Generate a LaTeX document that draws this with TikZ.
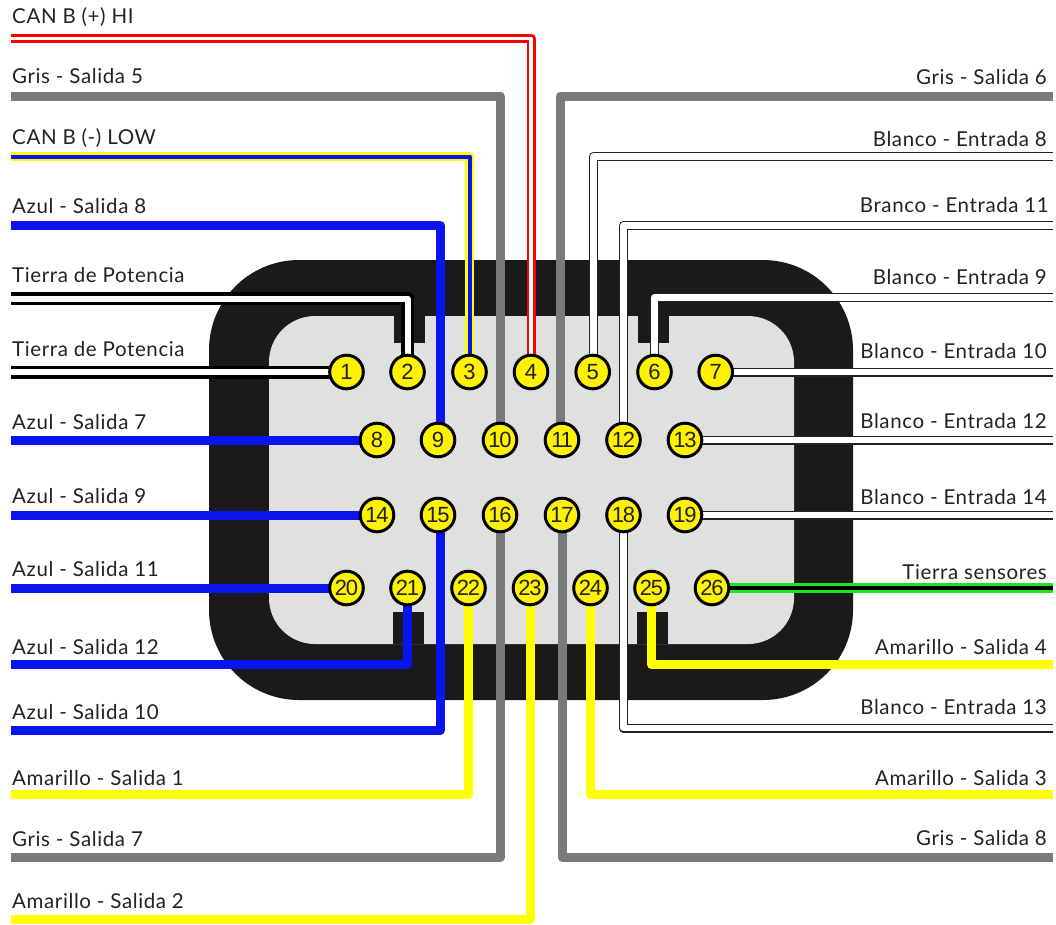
\documentclass[tikz,border=0pt]{standalone}
\usepackage{fontspec}
\usepackage{xcolor}
\setmainfont[LetterSpace=3]{Lato}
\newfontfamily\pinfont[LetterSpace=-6]{Liberation Sans}
\usetikzlibrary{backgrounds}

\definecolor{shell}{HTML}{1A1A1A}
\definecolor{face}{HTML}{E0E0DF}
\definecolor{pinyellow}{HTML}{FFF200}
\definecolor{wiregray}{HTML}{7A7A7A}
\definecolor{wireblue}{HTML}{0A14EE}
\definecolor{wireyellow}{HTML}{FFFF00}
\definecolor{wiregreen}{HTML}{1EE61E}
\definecolor{labelgray}{HTML}{222222}

\tikzset{
  pin/.style = {circle, draw=black, line width=3pt, fill=pinyellow, inner sep=0pt,
    minimum size=33.6pt, text=labelgray, font=\pinfont\fontsize{22}{26}\selectfont},
  leftlab/.style = {anchor=base west, inner sep=0pt, text=labelgray, font=\fontsize{20.5}{24}\selectfont},
  rightlab/.style = {anchor=base east, inner sep=0pt, text=labelgray, font=\fontsize{20.5}{24}\selectfont},
  wire/.style = {line join=round},
  graywire/.style = {wire, draw=wiregray, line width=9pt},
  bluewire/.style = {wire, draw=wireblue, line width=9pt},
  yellowwire/.style = {wire, draw=wireyellow, line width=9pt},
  whitewire/.style = {wire, draw=labelgray, line width=1.2pt, double=white, double distance=6.6pt},
  groundwire/.style = {wire, draw=black, line width=3.5pt, double=white, double distance=6pt},
  canhiwire/.style = {wire, draw=red, line width=2.8pt, double=white, double distance=3.4pt},
  canlowwire/.style = {wire, draw=wireyellow, line width=2.5pt, double=wireblue, double distance=4pt},
  sensorwire/.style = {wire, draw=wiregreen, line width=3pt, double=black, double distance=3.6pt},
}

\begin{document}
\begin{tikzpicture}[x=1pt, y=-1pt]
  \useasboundingbox (0,0) rectangle (1056,924);

  % pins
  \node[pin] (p1) at (346.5,372) {1};
  \node[pin] (p2) at (407.5,372) {2};
  \node[pin] (p3) at (469.5,372) {3};
  \node[pin] (p4) at (531,372) {4};
  \node[pin] (p5) at (592.7,372) {5};
  \node[pin] (p6) at (654.5,372) {6};
  \node[pin] (p7) at (715.7,372) {7};

  \node[pin] (p8) at (377,440) {8};
  \node[pin] (p9) at (438,440) {9};
  \node[pin] (p10) at (500,440) {10};
  \node[pin] (p11) at (562,440) {11};
  \node[pin] (p12) at (623.5,440) {12};
  \node[pin] (p13) at (685,440) {13};

  \node[pin] (p14) at (377,515) {14};
  \node[pin] (p15) at (438,515) {15};
  \node[pin] (p16) at (500,515) {16};
  \node[pin] (p17) at (562,515) {17};
  \node[pin] (p18) at (623.5,515) {18};
  \node[pin] (p19) at (685,515) {19};

  \node[pin] (p20) at (346.5,588) {20};
  \node[pin] (p21) at (407.5,588) {21};
  \node[pin] (p22) at (468.5,588) {22};
  \node[pin] (p23) at (530,588) {23};
  \node[pin] (p24) at (590.5,588) {24};
  \node[pin] (p25) at (651.5,588) {25};
  \node[pin] (p26) at (712,588) {26};

  % left side labels
  \node[leftlab] (l4) at (12,23.5) {CAN B (+) HI};
  \node[leftlab] (l10) at (12,83) {Gris - Salida 5};
  \node[leftlab] (l3) at (12,144.5) {CAN B (-) LOW};
  \node[leftlab] (l9) at (12,213) {Azul - Salida 8};
  \node[leftlab] (l2) at (12,282.5) {Tierra de Potencia};
  \node[leftlab] (l1) at (12,356.5) {Tierra de Potencia};
  \node[leftlab] (l8) at (12,429) {Azul - Salida 7};
  \node[leftlab] (l14) at (12,503) {Azul - Salida 9};
  \node[leftlab] (l20) at (12,576) {Azul - Salida 11};
  \node[leftlab] (l21) at (12,654) {Azul - Salida 12};
  \node[leftlab] (l15) at (12,719) {Azul - Salida 10};
  \node[leftlab] (l22) at (12,785) {Amarillo - Salida 1};
  \node[leftlab] (l16) at (12,846) {Gris - Salida 7};
  \node[leftlab] (l23) at (12,908) {Amarillo - Salida 2};

  % right side labels
  \node[rightlab] (l11) at (1047,84) {Gris - Salida 6};
  \node[rightlab] (l5) at (1047,146.7) {Blanco - Entrada 8};
  \node[rightlab] (l12) at (1049,212) {Branco - Entrada 11};
  \node[rightlab] (l6) at (1047,284) {Blanco - Entrada 9};
  \node[rightlab] (l7) at (1047,358) {Blanco - Entrada 10};
  \node[rightlab] (l13) at (1047,428) {Blanco - Entrada 12};
  \node[rightlab] (l19) at (1047,504) {Blanco - Entrada 14};
  \node[rightlab] (l26) at (1047,579) {Tierra sensores};
  \node[rightlab] (l25) at (1047,654) {Amarillo - Salida 4};
  \node[rightlab] (l18) at (1047,714) {Blanco - Entrada 13};
  \node[rightlab] (l24) at (1047,785) {Amarillo - Salida 3};
  \node[rightlab] (l17) at (1047,845) {Gris - Salida 8};

  % free wire ends
  \coordinate (w1) at (10.5,372);
  \coordinate (w2) at (10.5,298.5);
  \coordinate (w3) at (10.5,156.5);
  \coordinate (w4) at (10.5,38.5);
  \coordinate (w5) at (1052.5,156.5);
  \coordinate (w6) at (1052.5,297.5);
  \coordinate (w7) at (1052.5,372);
  \coordinate (w8) at (10.5,440);
  \coordinate (w9) at (10.5,225.5);
  \coordinate (w10) at (10.5,96);
  \coordinate (w11) at (1052.5,96);
  \coordinate (w12) at (1052.5,225.5);
  \coordinate (w13) at (1052.5,440);
  \coordinate (w14) at (10.5,515);
  \coordinate (w15) at (10.5,730.5);
  \coordinate (w16) at (10.5,857.5);
  \coordinate (w17) at (1052.5,857.5);
  \coordinate (w18) at (1052.5,728);
  \coordinate (w19) at (1052.5,515);
  \coordinate (w20) at (10.5,588);
  \coordinate (w21) at (10.5,664.5);
  \coordinate (w22) at (10.5,794.5);
  \coordinate (w23) at (10.5,919);
  \coordinate (w24) at (1052.5,794.5);
  \coordinate (w25) at (1052.5,664.5);
  \coordinate (w26) at (1052.5,588);

  \begin{scope}[on background layer]
    % connector body
    \fill[shell, rounded corners=90pt] (209,260) rectangle (853,700);
    \fill[face, rounded corners=46pt] (269,316) rectangle (794,644);
    \fill[shell] (394,316) rectangle (425,343);
    \fill[shell] (638,316) rectangle (669,343);
    \fill[shell] (393,612) rectangle (424,644);
    \fill[shell] (637,612) rectangle (668,644);

    % wires
    \draw[groundwire] (w1) -- (p1.center);
    \draw[groundwire] (w2) -| (p2.center);
    \draw[canlowwire] (w3) -| (p3.center);
    \draw[canhiwire] (w4) -| (p4.center);
    \draw[whitewire] (w5) -| ([xshift=.8pt]p5.center);
    \draw[whitewire] (w6) -| (p6.center);
    \draw[whitewire] (w7) -- (p7.center);
    \draw[bluewire] (w8) -- (p8.center);
    \draw[bluewire] (w9) -| ([xshift=2pt]p9.center);
    \draw[graywire] (w10) -| (p10.center);
    \draw[graywire] (w11) -| ([xshift=-2pt]p11.center);
    \draw[whitewire] (w12) -| (p12.center);
    \draw[whitewire] (w13) -- (p13.center);
    \draw[bluewire] (w14) -- (p14.center);
    \draw[bluewire] (w15) -| ([xshift=2pt]p15.center);
    \draw[graywire] (w16) -| (p16.center);
    \draw[graywire] (w17) -| (p17.center);
    \draw[whitewire] (w18) -| (p18.center);
    \draw[whitewire] (w19) -- (p19.center);
    \draw[bluewire] (w20) -- (p20.center);
    \draw[bluewire] (w21) -| (p21.center);
    \draw[yellowwire] (w22) -| (p22.center);
    \draw[yellowwire] (w23) -| (p23.center);
    \draw[yellowwire] (w24) -| (p24.center);
    \draw[yellowwire] (w25) -| (p25.center);
    \draw[sensorwire] (w26) -- (p26.center);
  \end{scope}
\end{tikzpicture}
\end{document}
